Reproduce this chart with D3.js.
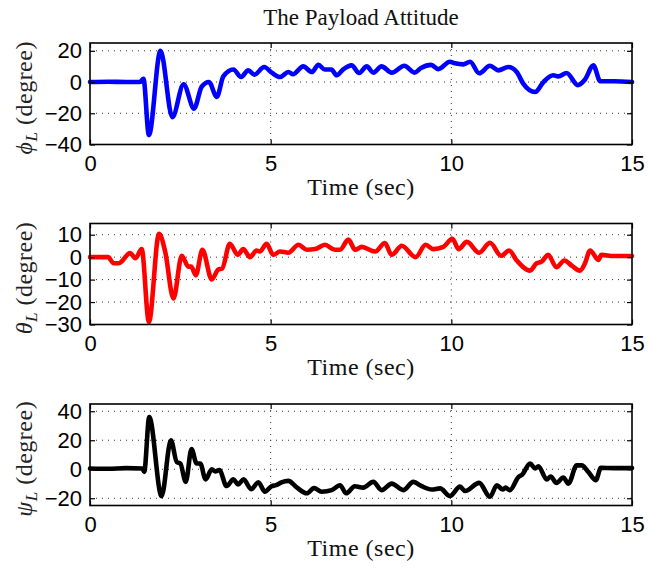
<!DOCTYPE html>
<html>
<head>
<meta charset="utf-8">
<script src="https://cdn.jsdelivr.net/npm/d3@7"></script>
<style>
  html, body { margin: 0; padding: 0; background: #fff; }
  svg { display: block; }
</style>
</head>
<body>
<svg id="chart" width="649" height="569"></svg>
<script>
// Payload attitude angles (degrees) sampled against time (seconds)
const phiTime = [0,0.5,1.0,1.38,1.48,1.63,1.95,2.28,2.59,2.88,3.09,3.29,3.51,3.69,3.97,4.18,4.38,4.55,4.82,5.03,5.26,5.49,5.62,5.9,6.14,6.32,6.5,6.68,6.83,7.0,7.24,7.45,7.66,7.84,8.07,8.35,8.7,8.98,9.16,9.44,9.64,9.96,10.1,10.33,10.52,10.77,11.07,11.3,11.58,11.81,11.99,12.32,12.55,12.82,12.96,13.19,13.5,13.7,13.93,14.12,14.5,15];
const phiDeg  = [0,0.2,0,0,2,-34,20,-22.5,-1.5,-17,-3,0,-9.5,3.6,8,3.2,7.5,4.7,9.6,6,3.2,6.4,5,10,6.4,11,8,8,4.3,8,10.7,5.8,10,6,10,6,10.4,6,9,11,8.3,13,12,11.3,13,5.6,10.4,7.5,9.6,6.4,-1,-6.4,0,4.3,3.6,5.8,-2,1.6,10.7,0.6,0.5,0];

const thetaTime = [0,0.5,0.65,0.8,1.11,1.26,1.43,1.63,1.91,2.08,2.31,2.54,2.72,2.8,2.93,3.11,3.37,3.55,3.66,3.87,4.09,4.24,4.43,4.61,4.7,4.89,5.07,5.26,5.49,5.77,6.0,6.23,6.5,6.78,6.92,7.15,7.34,7.52,7.89,8.16,8.35,8.63,9.01,9.29,9.5,9.78,10.03,10.2,10.43,10.77,11.07,11.38,11.6,11.81,12.18,12.36,12.5,12.68,12.91,13.13,13.35,13.56,13.7,13.84,14.07,14.15,14.5,15];
const thetaDeg  = [0,0,-2.7,-2.7,1.8,-0.5,3.6,-28.9,10.4,2.5,-18.4,0.6,-4.2,-4.2,-8,3.3,-9.9,-5.5,-5,6,1,3.6,0,3,2.5,6,1,2.5,2,5.5,3.3,3.6,5.5,3.3,3.3,7.8,3.3,4.6,2.5,6.3,1,5.1,0,5.5,3.6,4.6,8.2,3.6,6.8,2,6.4,0.6,3,-1.5,-6,-2.7,-2,1,-4.5,-1.5,-4,-6,-2.7,3,-1.2,1,0.5,0.5];

const psiTime = [0,0.5,1.0,1.45,1.5,1.64,1.98,2.24,2.4,2.5,2.65,2.81,2.95,3.05,3.2,3.37,3.47,3.58,3.78,3.97,4.1,4.25,4.46,4.66,4.84,5.03,5.15,5.3,5.49,5.72,6.0,6.2,6.41,6.69,6.92,7.09,7.33,7.56,7.84,8.07,8.35,8.67,8.95,9.18,9.46,9.69,9.96,10.24,10.38,10.77,11.07,11.26,11.42,11.5,11.62,11.86,11.95,12.18,12.32,12.41,12.64,12.75,12.91,13.1,13.24,13.47,13.61,13.79,14.0,14.14,14.5,15];
const psiDeg  = [0.5,0.3,0.8,0.5,-1.8,36,-18.5,20,5,4,-8.7,14,4,4,-7,0,-1.6,-0.5,-11.6,-7,-10.5,-7,-13.7,-9,-15.5,-11.6,-11,-9,-8,-12.5,-16.6,-13,-15.5,-14.4,-11,-16.6,-11.7,-12.7,-8.7,-14.4,-9.9,-14.4,-8.7,-11.7,-14,-13.2,-18.5,-12,-15,-9.4,-19,-11,-14,-12.7,-14.4,-5.3,-4,3.9,0.5,2,-7,-5,-9.4,-5.7,-9.9,2.7,2.7,-1.8,-7.5,1,0.8,0.8];

// Axis ticks
const timeTicks  = [0, 5, 10, 15];
const phiTicks   = [-40, -20, 0, 20];
const thetaTicks = [-30, -20, -10, 0, 10];
const psiTicks   = [-20, 0, 20, 40];

const titleText = "The Payload Attitude";
const xLabelText = "Time (sec)";

const panels = [
  { t: phiTime,   v: phiDeg,   ticks: phiTicks,   domain: [-40, 25], sym: "\u03d5", color: "#0000ff", top: 43,  bottom: 144.5 },
  { t: thetaTime, v: thetaDeg, ticks: thetaTicks, domain: [-30, 15], sym: "\u03b8", color: "#ff0000", top: 223.5, bottom: 324.5 },
  { t: psiTime,   v: psiDeg,   ticks: psiTicks,   domain: [-25, 45], sym: "\u03c8", color: "#000000", top: 404, bottom: 505.5 }
];

const left = 90, right = 632;
const svg = d3.select("#chart");
const serif = "'Liberation Serif', 'Times New Roman', serif";
const sans = "'Liberation Sans', Arial, Helvetica, sans-serif";
const fmt = d => (d < 0 ? "\u2212" + Math.abs(d) : String(d));

svg.append("text")
  .attr("x", (left + right) / 2).attr("y", 25)
  .attr("text-anchor", "middle")
  .style("font-family", serif).style("font-size", "23px").style("fill", "#111")
  .text(titleText);

const x = d3.scaleLinear().domain([0, 15]).range([left, right]);

panels.forEach(p => {
  const y = d3.scaleLinear().domain(p.domain).range([p.bottom, p.top]);
  const g = svg.append("g");

  // dotted grid
  g.append("g").selectAll("line").data(timeTicks.slice(1, -1)).join("line")
    .attr("x1", d => x(d)).attr("x2", d => x(d))
    .attr("y1", p.top).attr("y2", p.bottom)
    .attr("stroke", "#333").attr("stroke-width", 1).attr("stroke-dasharray", "1,5");
  g.append("g").selectAll("line").data(p.ticks.filter(d => d > p.domain[0] && d < p.domain[1])).join("line")
    .attr("x1", left).attr("x2", right)
    .attr("y1", d => y(d)).attr("y2", d => y(d))
    .attr("stroke", "#333").attr("stroke-width", 1).attr("stroke-dasharray", "1,5");

  // series
  const pts = p.t.map((t, i) => [t, p.v[i]]);
  g.append("path")
    .datum(pts)
    .attr("fill", "none")
    .attr("stroke", p.color)
    .attr("stroke-width", 4.6)
    .attr("stroke-linejoin", "round")
    .attr("stroke-linecap", "round")
    .attr("d", d3.line().x(d => x(d[0])).y(d => y(d[1])).curve(d3.curveMonotoneX));

  // axes: left/bottom with labels, top/right mirrored ticks
  const tickLen = 5;
  const axL = g.append("g").attr("transform", `translate(${left},0)`)
    .call(d3.axisLeft(y).tickValues(p.ticks).tickSize(-tickLen).tickPadding(8).tickFormat(fmt));
  const axR = g.append("g").attr("transform", `translate(${right},0)`)
    .call(d3.axisRight(y).tickValues(p.ticks).tickSize(-tickLen).tickFormat(""));
  const axB = g.append("g").attr("transform", `translate(0,${p.bottom})`)
    .call(d3.axisBottom(x).tickValues(timeTicks).tickSize(-tickLen).tickPadding(11).tickFormat(d3.format("d")));
  const axT = g.append("g").attr("transform", `translate(0,${p.top})`)
    .call(d3.axisTop(x).tickValues(timeTicks).tickSize(-tickLen).tickFormat(""));
  [axL, axR, axB, axT].forEach(a => {
    a.select(".domain").remove();
    a.selectAll(".tick line").attr("stroke", "#000").attr("stroke-width", 1.2);
    a.selectAll("text").style("font-family", sans).style("font-size", "22px").style("fill", "#000");
  });
  axB.selectAll("text").attr("dy", "0.71em");

  // frame
  g.append("rect")
    .attr("x", left).attr("y", p.top)
    .attr("width", right - left).attr("height", p.bottom - p.top)
    .attr("fill", "none").attr("stroke", "#000").attr("stroke-width", 1.6);

  // x label
  g.append("text")
    .attr("x", (left + right) / 2).attr("y", p.bottom + 50)
    .attr("text-anchor", "middle")
    .style("font-family", serif).style("font-size", "24px").style("letter-spacing", "0.5px").style("fill", "#111")
    .text(xLabelText);

  // y label
  const cy = (p.top + p.bottom) / 2;
  const yl = g.append("text")
    .attr("transform", `translate(32,${cy + 4}) rotate(-90)`)
    .attr("text-anchor", "middle")
    .style("font-family", serif).style("font-size", "24px").style("letter-spacing", "0.5px").style("fill", "#222");
  yl.append("tspan").style("font-style", "italic").text(p.sym);
  yl.append("tspan").style("font-style", "italic").style("font-size", "17px").attr("dy", 5).text("L");
  yl.append("tspan").attr("dy", -5).text(" (degree)");
});
</script>
</body>
</html>
